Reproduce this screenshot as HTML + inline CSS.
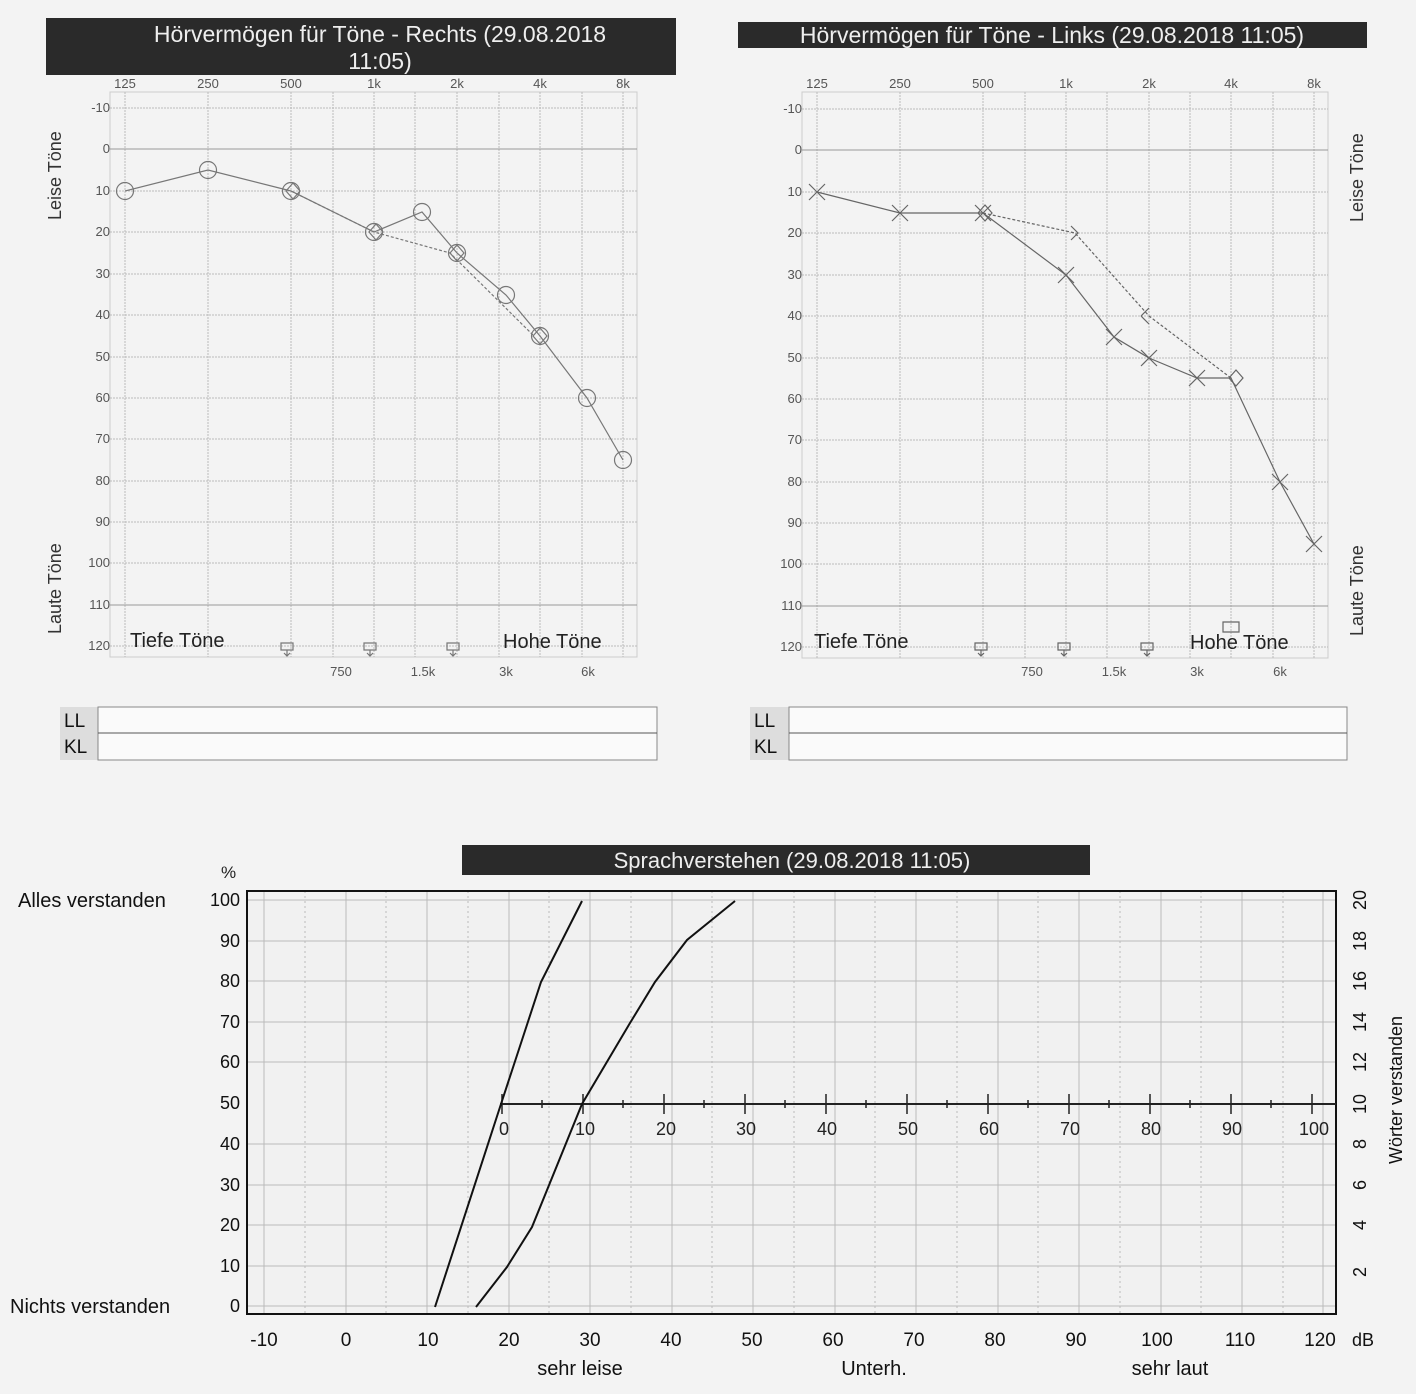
<!DOCTYPE html>
<html><head><meta charset="utf-8"><style>
html,body{margin:0;padding:0;background:#f3f3f3;}
svg{display:block;font-family:"Liberation Sans",sans-serif;}
</style></head><body>
<svg width="1416" height="1394" viewBox="0 0 1416 1394" xmlns="http://www.w3.org/2000/svg">
<rect width="1416" height="1394" fill="#f3f3f3"/>

<!-- ===== LEFT AUDIOGRAM ===== -->
<rect x="46" y="18" width="630" height="57" fill="#2a2a2a"/>
<text x="380" y="42" font-size="23" fill="#eee" text-anchor="middle">Hörvermögen für Töne - Rechts    (29.08.2018</text>
<text x="380" y="69" font-size="23" fill="#eee" text-anchor="middle">11:05)</text>

<g stroke="#bbb" stroke-width="1" fill="none">
<rect x="110" y="92" width="527" height="565" stroke="#ccc"/>
<path d="M125 92V657M208 92V657M291 92V657M333 92V657M374 92V657M415 92V657M457 92V657M499 92V657M540 92V657M582 92V657M623 92V657" stroke-dasharray="2 1"/>
<path d="M110 108H637M110 149H637M110 191H637M110 232H637M110 274H637M110 315H637M110 357H637M110 398H637M110 439H637M110 481H637M110 522H637M110 563H637M110 605H637M110 646H637" stroke-dasharray="2 1"/>
<path d="M110 149H637M110 605H637" stroke="#999" stroke-dasharray="none"/>
</g>
<g font-size="13" fill="#555" text-anchor="middle">
<text x="125" y="88">125</text><text x="208" y="88">250</text><text x="291" y="88">500</text><text x="374" y="88">1k</text><text x="457" y="88">2k</text><text x="540" y="88">4k</text><text x="623" y="88">8k</text>
<text x="341" y="676">750</text><text x="423" y="676">1.5k</text><text x="506" y="676">3k</text><text x="588" y="676">6k</text>
</g>
<g font-size="13" fill="#555" text-anchor="end">
<text x="110" y="112">-10</text><text x="110" y="153">0</text><text x="110" y="195">10</text><text x="110" y="236">20</text><text x="110" y="278">30</text><text x="110" y="319">40</text><text x="110" y="361">50</text><text x="110" y="402">60</text><text x="110" y="443">70</text><text x="110" y="485">80</text><text x="110" y="526">90</text><text x="110" y="567">100</text><text x="110" y="609">110</text><text x="110" y="650">120</text>
</g>
<text transform="translate(61,220) rotate(-90)" font-size="18" fill="#333">Leise Töne</text>
<text transform="translate(61,634) rotate(-90)" font-size="18" fill="#333">Laute Töne</text>
<text x="130" y="647" font-size="20" fill="#222">Tiefe Töne</text>
<text x="503" y="648" font-size="20" fill="#222">Hohe Töne</text>
<g stroke="#777" stroke-width="1.2" fill="none">
<polyline points="125,191 208,170 291,191 374,232 422,212 457,253 506,295 540,336 587,398 623,460"/>
<polyline points="291,191 374,232 450,253 534,336" stroke-dasharray="3 2"/>
<circle cx="125" cy="191" r="8.5"/><circle cx="208" cy="170" r="8.5"/><circle cx="291" cy="191" r="8.5"/><circle cx="374" cy="232" r="8.5"/><circle cx="422" cy="212" r="8.5"/><circle cx="457" cy="253" r="8.5"/><circle cx="506" cy="295" r="8.5"/><circle cx="540" cy="336" r="8.5"/><circle cx="587" cy="398" r="8.5"/><circle cx="623" cy="460" r="8.5"/>
<path d="M286 191l7-8l7 8l-7 8zM369 232l7-8l7 8l-7 8zM450 253l7-8l7 8l-7 8zM533 336l7-8l7 8l-7 8z"/>
<path d="M281 643h12v7h-12zM287 650v6M284 653l3 3l3-3M364 643h12v7h-12zM370 650v6M367 653l3 3l3-3M447 643h12v7h-12zM453 650v6M450 653l3 3l3-3"/>
</g>

<!-- LL KL left -->
<rect x="60" y="707" width="38" height="53" fill="#ddd"/>
<rect x="98" y="707" width="559" height="53" fill="#fafafa" stroke="#888"/>
<line x1="98" y1="733" x2="657" y2="733" stroke="#555"/>
<text x="64" y="727" font-size="19" fill="#111">LL</text>
<text x="64" y="753" font-size="19" fill="#111">KL</text>

<!-- ===== RIGHT AUDIOGRAM ===== -->
<rect x="738" y="22" width="629" height="26" fill="#2a2a2a"/>
<text x="1052" y="43" font-size="23" fill="#eee" text-anchor="middle">Hörvermögen für Töne - Links   (29.08.2018 11:05)</text>
<g stroke="#bbb" stroke-width="1" fill="none">
<rect x="802" y="92" width="526" height="566" stroke="#ccc"/>
<path d="M817 92V658M900 92V658M983 92V658M1025 92V658M1066 92V658M1107 92V658M1149 92V658M1190 92V658M1231 92V658M1273 92V658M1314 92V658" stroke-dasharray="2 1"/>
<path d="M802 109H1328M802 150H1328M802 192H1328M802 233H1328M802 275H1328M802 316H1328M802 358H1328M802 399H1328M802 440H1328M802 482H1328M802 523H1328M802 564H1328M802 606H1328M802 647H1328" stroke-dasharray="2 1"/>
<path d="M802 150H1328M802 606H1328" stroke="#999" stroke-dasharray="none"/>
</g>
<g font-size="13" fill="#555" text-anchor="middle">
<text x="817" y="88">125</text><text x="900" y="88">250</text><text x="983" y="88">500</text><text x="1066" y="88">1k</text><text x="1149" y="88">2k</text><text x="1231" y="88">4k</text><text x="1314" y="88">8k</text>
<text x="1032" y="676">750</text><text x="1114" y="676">1.5k</text><text x="1197" y="676">3k</text><text x="1280" y="676">6k</text>
</g>
<g font-size="13" fill="#555" text-anchor="end">
<text x="802" y="113">-10</text><text x="802" y="154">0</text><text x="802" y="196">10</text><text x="802" y="237">20</text><text x="802" y="279">30</text><text x="802" y="320">40</text><text x="802" y="362">50</text><text x="802" y="403">60</text><text x="802" y="444">70</text><text x="802" y="486">80</text><text x="802" y="527">90</text><text x="802" y="568">100</text><text x="802" y="610">110</text><text x="802" y="651">120</text>
</g>
<text transform="translate(1363,222) rotate(-90)" font-size="18" fill="#333">Leise Töne</text>
<text transform="translate(1363,636) rotate(-90)" font-size="18" fill="#333">Laute Töne</text>
<text x="814" y="648" font-size="20" fill="#222">Tiefe Töne</text>
<text x="1190" y="649" font-size="20" fill="#222">Hohe Töne</text>
<g stroke="#666" stroke-width="1.2" fill="none">
<polyline points="817,192 900,213 983,213 1066,275 1114,337 1149,358 1197,378 1231,378 1280,482 1314,544"/>
<polyline points="983,213 1075,233 1149,316 1231,378" stroke-dasharray="3 2"/>
<path d="M809 184l16 16M825 184l-16 16M892 205l16 16M908 205l-16 16M975 205l16 16M991 205l-16 16M1058 267l16 16M1074 267l-16 16M1106 329l16 16M1122 329l-16 16M1141 350l16 16M1157 350l-16 16M1189 370l16 16M1205 370l-16 16M1272 474l16 16M1288 474l-16 16M1306 536l16 16M1322 536l-16 16"/>
<path d="M978 213l7-8l7 8l-7 8zM1229 378l7-8l7 8l-7 8zM1071 226l7 7l-7 7M1141 316l8 8M1141 316l8-8"/>
<path d="M1223 622h16v10h-16zM975 643h12v7h-12zM981 650v6M978 653l3 3l3-3M1058 643h12v7h-12zM1064 650v6M1061 653l3 3l3-3M1141 643h12v7h-12zM1147 650v6M1144 653l3 3l3-3"/>
</g>

<!-- LL KL right -->
<rect x="750" y="707" width="39" height="53" fill="#ddd"/>
<rect x="789" y="707" width="558" height="53" fill="#fafafa" stroke="#888"/>
<line x1="789" y1="733" x2="1347" y2="733" stroke="#555"/>
<text x="754" y="727" font-size="19" fill="#111">LL</text>
<text x="754" y="753" font-size="19" fill="#111">KL</text>

<!-- ===== SPEECH CHART ===== -->
<rect x="462" y="845" width="628" height="30" fill="#2a2a2a"/>
<text x="792" y="868" font-size="22" fill="#eee" text-anchor="middle">Sprachverstehen  (29.08.2018 11:05)</text>
<text x="221" y="878" font-size="17" fill="#222">%</text>
<rect x="247" y="891" width="1089" height="423" fill="#f1f1f1"/>
<g stroke="#bbb" stroke-width="1" fill="none">
<path d="M247 900H1336M247 941H1336M247 981H1336M247 1022H1336M247 1062H1336M247 1144H1336M247 1185H1336M247 1225H1336M247 1266H1336M247 1306H1336"/>
<path d="M264 891V1314M346 891V1314M427 891V1314M509 891V1314M590 891V1314M672 891V1314M753 891V1314M835 891V1314M916 891V1314M998 891V1314M1079 891V1314M1161 891V1314M1242 891V1314M1323 891V1314"/>
<path d="M305 891V1314M386 891V1314M468 891V1314M549 891V1314M631 891V1314M712 891V1314M794 891V1314M875 891V1314M957 891V1314M1038 891V1314M1120 891V1314M1201 891V1314M1283 891V1314" stroke-dasharray="2 3"/>
</g>
<rect x="247" y="891" width="1089" height="423" fill="none" stroke="#111" stroke-width="2"/>
<g stroke="#222" stroke-width="2">
<line x1="500" y1="1104" x2="1336" y2="1104"/>
<path d="M502 1094V1114M583 1094V1114M664 1094V1114M745 1094V1114M826 1094V1114M907 1094V1114M988 1094V1114M1069 1094V1114M1150 1094V1114M1231 1094V1114M1312 1094V1114" stroke-width="1.5"/>
<path d="M542 1100V1108M623 1100V1108M704 1100V1108M785 1100V1108M866 1100V1108M947 1100V1108M1028 1100V1108M1109 1100V1108M1190 1100V1108M1271 1100V1108" stroke-width="1.5"/>
</g>
<g font-size="18" fill="#222" text-anchor="middle">
<text x="504" y="1135">0</text><text x="585" y="1135">10</text><text x="666" y="1135">20</text><text x="746" y="1135">30</text><text x="827" y="1135">40</text><text x="908" y="1135">50</text><text x="989" y="1135">60</text><text x="1070" y="1135">70</text><text x="1151" y="1135">80</text><text x="1232" y="1135">90</text><text x="1314" y="1135">100</text>
</g>
<g stroke="#111" stroke-width="2" fill="none">
<polyline points="435,1307 501,1104 522,1040 541,982 582,901"/>
<polyline points="476,1307 507,1267 532,1227 582,1104 630,1023 655,982 687,940 735,901"/>
</g>
<g font-size="18" fill="#111" text-anchor="end">
<text x="240" y="906">100</text><text x="240" y="947">90</text><text x="240" y="987">80</text><text x="240" y="1028">70</text><text x="240" y="1068">60</text><text x="240" y="1109">50</text><text x="240" y="1150">40</text><text x="240" y="1191">30</text><text x="240" y="1231">20</text><text x="240" y="1272">10</text><text x="240" y="1312">0</text>
</g>
<text x="18" y="907" font-size="20" fill="#111">Alles verstanden</text>
<text x="10" y="1313" font-size="20" fill="#111">Nichts verstanden</text>
<g font-size="19" fill="#111" text-anchor="middle">
<text x="264" y="1346">-10</text><text x="346" y="1346">0</text><text x="428" y="1346">10</text><text x="509" y="1346">20</text><text x="590" y="1346">30</text><text x="671" y="1346">40</text><text x="752" y="1346">50</text><text x="833" y="1346">60</text><text x="914" y="1346">70</text><text x="995" y="1346">80</text><text x="1076" y="1346">90</text><text x="1157" y="1346">100</text><text x="1240" y="1346">110</text><text x="1320" y="1346">120</text>
</g>
<text x="1352" y="1346" font-size="18" fill="#111">dB</text>
<text x="580" y="1375" font-size="20" fill="#111" text-anchor="middle">sehr leise</text>
<text x="874" y="1375" font-size="20" fill="#111" text-anchor="middle">Unterh.</text>
<text x="1170" y="1375" font-size="20" fill="#111" text-anchor="middle">sehr laut</text>
<g font-size="18" fill="#111" text-anchor="middle">
<text transform="translate(1366,900) rotate(-90)">20</text>
<text transform="translate(1366,941) rotate(-90)">18</text>
<text transform="translate(1366,981) rotate(-90)">16</text>
<text transform="translate(1366,1022) rotate(-90)">14</text>
<text transform="translate(1366,1062) rotate(-90)">12</text>
<text transform="translate(1366,1104) rotate(-90)">10</text>
<text transform="translate(1366,1144) rotate(-90)">8</text>
<text transform="translate(1366,1185) rotate(-90)">6</text>
<text transform="translate(1366,1225) rotate(-90)">4</text>
<text transform="translate(1366,1272) rotate(-90)">2</text>
</g>
<text transform="translate(1402,1090) rotate(-90)" font-size="18" fill="#111" text-anchor="middle">Wörter verstanden</text>
</svg>
</body></html>
